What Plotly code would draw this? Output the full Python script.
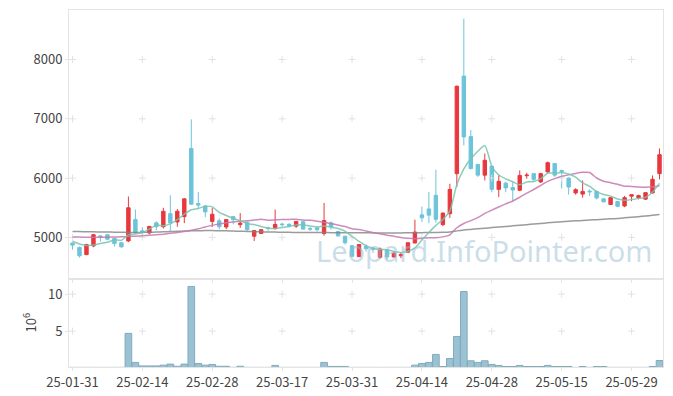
import pandas as pd
import plotly.graph_objects as go

# ---------------- data ----------------
holidays = ["2025-03-03", "2025-05-01", "2025-05-05", "2025-05-06", "2025-06-03"]
dates = [d.strftime("%Y-%m-%d") for d in
         pd.bdate_range("2025-01-31", "2025-06-05", freq="C", holidays=holidays)]

opens = [4905, 4830, 4710, 4855, 5025, 5045, 4985, 4910, 4940, 5300,
         5110, 5075, 5245, 5180, 5400, 5260, 5350, 6500, 5570, 5530,
         5270, 5280, 5175, 5350, 5215, 5255, 5020, 5065, 5160, 5150,
         5225, 5220, 5190, 5265, 5150, 5160, 5065, 5245, 5100, 5020,
         4860, 4675, 4850, 4820, 4665, 4790, 4670, 4690, 4750, 4905,
         5380, 5480, 5710, 5215, 5400, 6075, 7720, 6700, 6230, 6050,
         6200, 5810, 5915, 5840, 5795, 6040, 6075, 5935, 6105, 6245,
         6130, 6000, 5750, 5730, 5780, 5775, 5650, 5555, 5605, 5530,
         5695, 5670, 5645, 5750, 6075]
highs = [4910, 4845, 4890, 5060, 5040, 5050, 4990, 4915, 5690, 5470,
         5170, 5195, 5270, 5500, 5710, 5480, 5660, 6990, 5765, 5545,
         5495, 5320, 5305, 5360, 5410, 5270, 5120, 5140, 5180, 5470,
         5250, 5240, 5275, 5275, 5180, 5185, 5580, 5270, 5110, 5025,
         4870, 4885, 4880, 4830, 4830, 4800, 4760, 4740, 4915, 5300,
         5520, 5765, 6140, 5420, 5905, 7560, 8690, 6810, 6240, 6415,
         6210, 6050, 5940, 5935, 6130, 6090, 6080, 6090, 6280, 6250,
         6140, 6010, 5830, 5960, 5810, 5790, 5660, 5680, 5610, 5700,
         5725, 5720, 5760, 6045, 6500]
lows = [4795, 4660, 4700, 4835, 4930, 4950, 4845, 4830, 4920, 5060,
        5030, 5050, 5120, 5150, 5110, 5180, 5240, 5550, 5480, 5340,
        5175, 5135, 5140, 5220, 5160, 5110, 4940, 5060, 5110, 5130,
        5180, 5170, 5160, 5130, 5110, 5100, 5030, 5130, 5015, 4880,
        4670, 4670, 4760, 4740, 4640, 4625, 4660, 4650, 4745, 4900,
        5260, 5240, 5250, 5190, 5330, 5850, 6550, 6150, 6020, 5960,
        5760, 5680, 5760, 5600, 5780, 5990, 5940, 5920, 6090, 6020,
        5825, 5720, 5720, 5670, 5700, 5640, 5590, 5550, 5510, 5510,
        5610, 5640, 5630, 5740, 5980]
closes = [4870, 4690, 4880, 5045, 5005, 4970, 4895, 4840, 5500, 5080,
          5090, 5185, 5180, 5440, 5245, 5440, 5650, 5560, 5545, 5430,
          5390, 5180, 5300, 5300, 5240, 5130, 5115, 5130, 5155, 5220,
          5215, 5195, 5270, 5140, 5140, 5130, 5285, 5175, 5025, 4910,
          4680, 4880, 4810, 4800, 4805, 4670, 4735, 4710, 4910, 5090,
          5330, 5375, 5305, 5410, 5810, 7550, 6695, 6160, 6050, 6300,
          5810, 5945, 5835, 5800, 6045, 6050, 5980, 6075, 6260, 6050,
          6110, 5850, 5805, 5775, 5770, 5665, 5600, 5670, 5525, 5670,
          5720, 5705, 5755, 5980, 6395]
volumes = [0.10, 0.10, 0.10, 0.10, 0.10, 0.10, 0.10, 0.10, 4.70, 0.77,
           0.30, 0.30, 0.30, 0.40, 0.54, 0.25, 0.54, 11.04, 0.63, 0.40,
           0.50, 0.25, 0.25, 0.10, 0.25, 0.10, 0.10, 0.10, 0.10, 0.36,
           0.10, 0.10, 0.10, 0.10, 0.10, 0.10, 0.77, 0.23, 0.23, 0.23,
           0.10, 0.10, 0.10, 0.10, 0.10, 0.10, 0.10, 0.10, 0.10, 0.40,
           0.63, 0.77, 1.85, 0.22, 1.30, 4.28, 10.36, 0.99, 0.77, 0.99,
           0.50, 0.36, 0.22, 0.22, 0.36, 0.22, 0.22, 0.22, 0.36, 0.22,
           0.22, 0.22, 0.10, 0.22, 0.10, 0.22, 0.22, 0.10, 0.10, 0.10,
           0.10, 0.10, 0.10, 0.22, 1.03]  # millions of shares

# moving averages: the first points need history before the window
ma5_head = [4935, 4890, 4865, 4870]
ma20_head = [5005, 5005, 5003, 5002, 5003, 5004, 5006, 5010, 5015, 5020,
             5027, 5035, 5045, 5055, 5068, 5082, 5100, 5120, 5145]
ma120 = [5100, 5098, 5096, 5094, 5092, 5090, 5088, 5086, 5084, 5083,
         5084, 5087, 5090, 5094, 5098, 5102, 5106, 5110, 5113, 5115,
         5115, 5113, 5110, 5107, 5104, 5100, 5097, 5094, 5091, 5089,
         5087, 5085, 5084, 5083, 5082, 5081, 5081, 5080, 5080, 5079,
         5078, 5077, 5077, 5076, 5076, 5075, 5075, 5076, 5077, 5078,
         5080, 5082, 5084, 5086, 5092, 5110, 5125, 5135, 5145, 5155,
         5165, 5175, 5185, 5195, 5205, 5215, 5225, 5235, 5245, 5255,
         5265, 5272, 5279, 5286, 5293, 5299, 5306, 5313, 5320, 5330,
         5340, 5350, 5360, 5372, 5385]

price_ticks = [5000, 6000, 7000, 8000]
volume_ticks = [5, 10]
volume_ticktext = ["5", "10"]
tick_dates = dates[::10]
tick_text = [d[2:] for d in tick_dates]


def sma(vals, n, head):
    out = list(head)
    for i in range(len(head), len(vals)):
        out.append(sum(vals[i - n + 1:i + 1]) / n)
    return out


ma5 = sma(closes, 5, ma5_head)
ma20 = sma(closes, 20, ma20_head)

# ---------------- figure ----------------
RED = "#e8383d"
BLUE = "#6cc4da"
GRID = "#e2e2e2"
FRAME = "#e4e4e4"
FONT = "Noto Sans CJK KR"

fig = go.Figure()

# grid drawn as small crosses at tick intersections
gx = [d for _ in price_ticks for d in tick_dates]
gy = [p for p in price_ticks for _ in tick_dates]
fig.add_trace(go.Scatter(x=gx, y=gy, mode="markers",
                         marker=dict(symbol="cross-thin", size=5, line=dict(color=GRID, width=1)),
                         xaxis="x", yaxis="y", showlegend=False, hoverinfo="skip"))
vx = [d for _ in volume_ticks for d in tick_dates]
vy = [v * 1e6 for v in volume_ticks for _ in tick_dates]
fig.add_trace(go.Scatter(x=vx, y=vy, mode="markers",
                         marker=dict(symbol="cross-thin", size=5, line=dict(color=GRID, width=1)),
                         xaxis="x2", yaxis="y2", showlegend=False, hoverinfo="skip"))

fig.add_trace(go.Candlestick(
    x=dates, open=opens, high=highs, low=lows, close=closes,
    increasing=dict(line=dict(color=RED, width=1), fillcolor=RED),
    decreasing=dict(line=dict(color=BLUE, width=1), fillcolor=BLUE),
    xaxis="x", yaxis="y", showlegend=False, hoverinfo="skip"))

for vals, col in [(ma120, "rgba(130,130,130,0.8)"),
                  (ma20, "rgba(195,120,175,0.85)"),
                  (ma5, "rgba(120,195,175,0.85)")]:
    fig.add_trace(go.Scatter(x=dates, y=vals, mode="lines",
                             line=dict(color=col, width=1.5, shape="spline", smoothing=0.6),
                             xaxis="x", yaxis="y", showlegend=False, hoverinfo="skip"))

fig.add_trace(go.Bar(x=dates, y=[v * 1e6 for v in volumes],
                     marker=dict(color="#9ac2d3", line=dict(color="#80abbf", width=1)),
                     xaxis="x2", yaxis="y2", showlegend=False, hoverinfo="skip"))

split = 0.2476
common_x = dict(type="category", categoryorder="array", categoryarray=dates,
                range=[-0.5, len(dates) - 0.5], showgrid=False, zeroline=False,
                showline=True, linecolor=FRAME, mirror=True, automargin=False,
                ticks="outside", ticklen=3, tickcolor=FRAME,
                tickvals=tick_dates, ticktext=tick_text,
                tickfont=dict(family=FONT, size=13, color="#444"))
common_y = dict(showgrid=False, zeroline=False, showline=True, linecolor=FRAME, mirror=True,
                ticks="outside", ticklen=3, tickcolor=FRAME, automargin=False,
                tickfont=dict(family=FONT, size=13, color="#444"))

fig.update_layout(
    width=673, height=396,
    margin=dict(l=69, r=10, t=10, b=29, autoexpand=False),
    paper_bgcolor="white", plot_bgcolor="white",
    bargap=0.05,
    hovermode=False,
    xaxis=dict(common_x, anchor="y", showticklabels=False, rangeslider=dict(visible=False)),
    xaxis2=dict(common_x, anchor="y2", matches="x"),
    yaxis=dict(common_y, domain=[split, 1], range=[4305, 8835], tickvals=price_ticks),
    yaxis2=dict(common_y, domain=[0, split], range=[0.15e6, 12.1e6],
                tickvals=[v * 1e6 for v in volume_ticks], ticktext=volume_ticktext,
                title=dict(text="10<sup>6</sup>", standoff=8,
                           font=dict(family=FONT, size=13, color="#444"))),
    annotations=[dict(text="Leopard.InfoPointer.com", xref="paper", yref="paper",
                      x=0.699, y=0.325, xanchor="center", yanchor="middle", showarrow=False,
                      font=dict(family="Noto Sans", size=29, color="rgba(150,190,212,0.5)"))],
)

fig.write_html("out.html",
               config={"displayModeBar": False, "staticPlot": True},
               post_script="document.body.style.margin='0';document.body.style.overflow='hidden';")
